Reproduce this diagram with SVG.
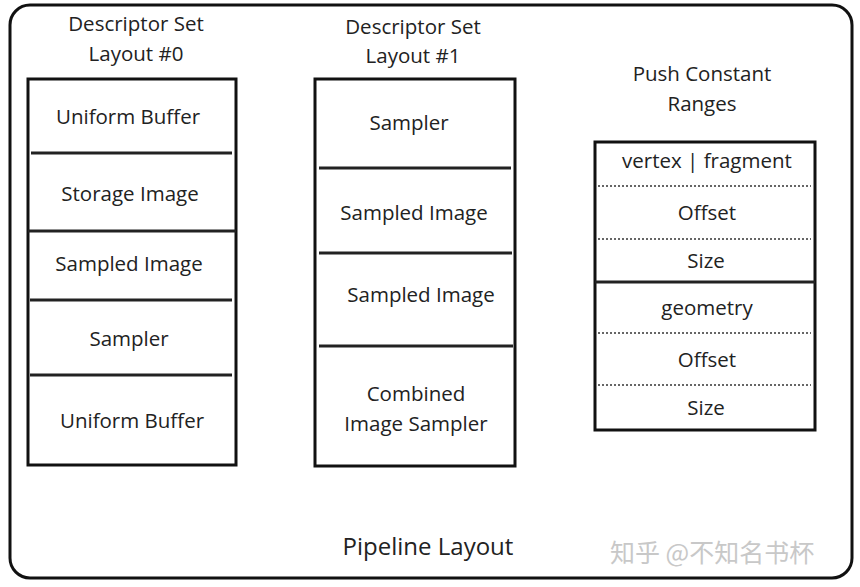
<svg xmlns="http://www.w3.org/2000/svg" width="860" height="587" viewBox="0 0 860 587">
<style>
text{font-family:"Open Sans","Liberation Sans",sans-serif;font-size:20.5px;fill:#222;text-anchor:middle}
.box{fill:#fff;stroke:#111;stroke-width:3}
.sep{stroke:#222;stroke-width:3}
.dot{stroke:#666;stroke-width:2;stroke-dasharray:2 2}
.wm{font-family:"Noto Sans CJK SC",sans-serif;font-size:25px;fill:#c8c8c8;text-anchor:start}
</style>
<rect width="860" height="587" fill="#fff"/>
<g id="pipeline-layout">
<rect x="10" y="5" width="842" height="573" rx="20" ry="20" fill="none" stroke="#111" stroke-width="3"/>
<text x="428" y="555" style="font-size:24px">Pipeline Layout</text>
</g>
<g id="set-layout-0">
<text x="136" y="31">Descriptor Set</text>
<text x="136" y="61">Layout  #0</text>
<rect class="box" x="28" y="79" width="208" height="386"/>
<line class="sep" x1="31" y1="153" x2="232" y2="153"/>
<line class="sep" x1="28" y1="231" x2="236" y2="231"/>
<line class="sep" x1="30" y1="300" x2="232" y2="300"/>
<line class="sep" x1="30" y1="375" x2="232" y2="375"/>
<text x="128" y="124">Uniform Buffer</text>
<text x="130" y="201">Storage Image</text>
<text x="129" y="271">Sampled Image</text>
<text x="129" y="346">Sampler</text>
<text x="132" y="428">Uniform Buffer</text>
</g>
<g id="set-layout-1">
<text x="413" y="34">Descriptor Set</text>
<text x="413" y="63">Layout  #1</text>
<rect class="box" x="315" y="79" width="200" height="387"/>
<line class="sep" x1="319" y1="168" x2="511" y2="168"/>
<line class="sep" x1="319" y1="253" x2="512" y2="253"/>
<line class="sep" x1="319" y1="346" x2="513" y2="346"/>
<text x="409" y="130">Sampler</text>
<text x="414" y="220">Sampled Image</text>
<text x="421" y="302">Sampled Image</text>
<text x="416" y="401">Combined</text>
<text x="416" y="431">Image Sampler</text>
</g>
<g id="push-constant-ranges">
<text x="702" y="81">Push Constant</text>
<text x="702" y="111">Ranges</text>
<rect class="box" x="595" y="142" width="220" height="288"/>
<line class="dot" x1="598" y1="186" x2="811" y2="186"/>
<line class="dot" x1="598" y1="239" x2="811" y2="239"/>
<line class="sep" x1="595" y1="282" x2="815" y2="282"/>
<line class="dot" x1="598" y1="333" x2="811" y2="333"/>
<line class="dot" x1="598" y1="385" x2="811" y2="385"/>
<text x="707" y="168">vertex | fragment</text>
<text x="707" y="220">Offset</text>
<text x="706" y="268">Size</text>
<text x="707" y="315">geometry</text>
<text x="707" y="367">Offset</text>
<text x="706" y="415">Size</text>
</g>
<g id="connectors"/>
<text class="wm" x="610" y="562">知乎 @不知名书杯</text>
</svg>
